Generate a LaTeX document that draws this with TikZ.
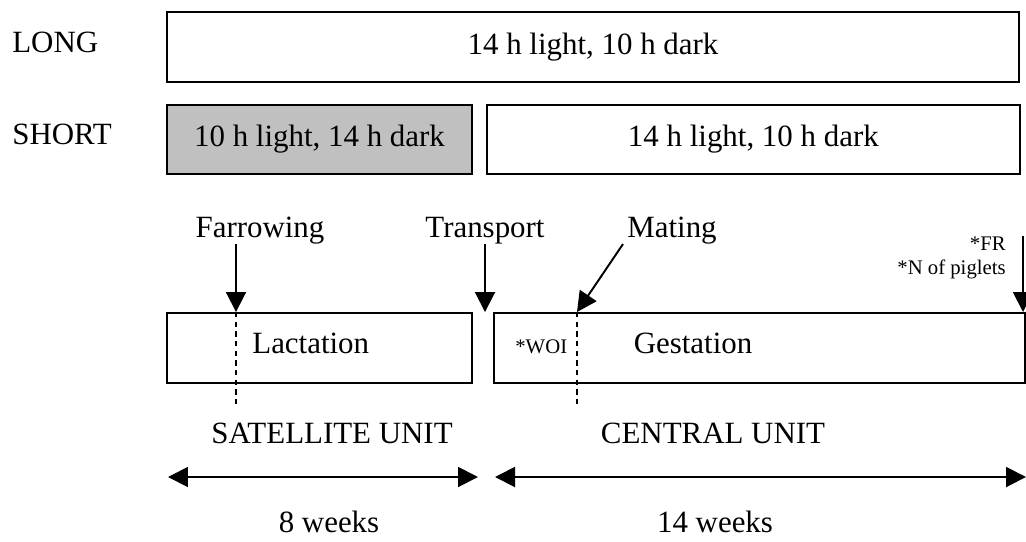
\documentclass[tikz,border=0pt]{standalone}
\usepackage{fontspec}
\setmainfont{Liberation Serif}
\usetikzlibrary{positioning,arrows.meta}
\definecolor{shortgray}{RGB}{192,192,192}

\begin{document}
\begin{tikzpicture}[x=0.02cm, y=-0.02cm,
    period/.style={rectangle, draw, line width=1.1pt, minimum height=1.39cm, inner sep=0pt, font=\fontsize{17.6}{21}\selectfont},
    dark/.style={period, fill=shortgray},
    phase/.style={rectangle, draw, line width=1.1pt, minimum height=1.4cm, inner sep=0pt},
    txt/.style={inner sep=0pt, font=\fontsize{17.6}{21}\selectfont},
    small/.style={inner sep=0pt, font=\fontsize{11.8}{14}\selectfont},
    event/.style={-{Triangle[length=0.4cm, width=0.4cm]}, line width=1.1pt},
    span/.style={{Triangle[length=0.4cm, width=0.4cm]}-{Triangle[length=0.4cm, width=0.4cm]}, line width=1.1pt},
    cutline/.style={dash pattern=on 3pt off 2.5pt, line width=0.8pt}]

\useasboundingbox (0,0) rectangle (1026,541);

% Photoperiod rows
\node[txt, anchor=base west] (long) at (12,52) {LONG};
\node[txt, anchor=base west] (short) at (12,144) {SHORT};
\node[period, minimum width=17.04cm] (longday) at (593,47) {14 h light, 10 h dark};
\node[dark, minimum width=6.1cm] (shortdark) at (319.5,139.5) {10 h light, 14 h dark};
\node[period, minimum width=10.66cm, right=0.26cm of shortdark] (shortlight) {14 h light, 10 h dark};

% Events
\node[txt, anchor=base] (farrowing) at (260,237) {Farrowing};
\node[txt, anchor=base] (transport) at (485,237) {Transport};
\node[txt, anchor=base west] (mating) at (627,237) {Mating};
\node[small, anchor=base east] (fr) at (1006,250) {*FR};
\node[small, anchor=base east] (piglets) at (1006,274) {*N of piglets};

% Phases
\node[phase, minimum width=6.1cm] (lactation) at (319.5,348) {};
\node[phase, minimum width=10.62cm] (gestation) at (759.5,348) {};
\node[txt, anchor=base west] (lactxt) at (252,353) {Lactation};
\node[txt, anchor=base] (gestxt) at (693,353) {Gestation};
\node[small, anchor=base west] (woi) at (515,353) {*WOI};

% Units and durations
\node[txt, anchor=base] (satellite) at (332,443) {SATELLITE UNIT};
\node[txt, anchor=base] (central) at (713,443) {CENTRAL UNIT};
\node[txt, anchor=base] (eight) at (329,532) {8 weeks};
\node[txt, anchor=base] (fourteen) at (715,532) {14 weeks};

\coordinate (farrowx) at (236,0);
\coordinate (matex) at (577,0);
\coordinate (fredge) at (1023,0);
\coordinate (satstart) at (168,477);
\coordinate (satend) at (478,477);
\coordinate (censtart) at (495,477);
\coordinate (cenend) at (1026,477);

% Arrows
\draw[event] (farrowx |- farrowing.south) -- (farrowx |- lactation.north);
\draw[event] (transport.south) -- (transport.south |- gestation.north);
\draw[event] ([xshift=-0.08cm]mating.south west) -- (matex |- gestation.north);
\draw[event] (fredge |- fr.north) -- (fredge |- gestation.north);
\draw[cutline] (farrowx |- lactation.north) -- ++(0,94);
\draw[cutline] (matex |- gestation.north) -- ++(0,92);
\draw[span] (satstart) -- (satend);
\draw[span] (censtart) -- (cenend);

\end{tikzpicture}
\end{document}
